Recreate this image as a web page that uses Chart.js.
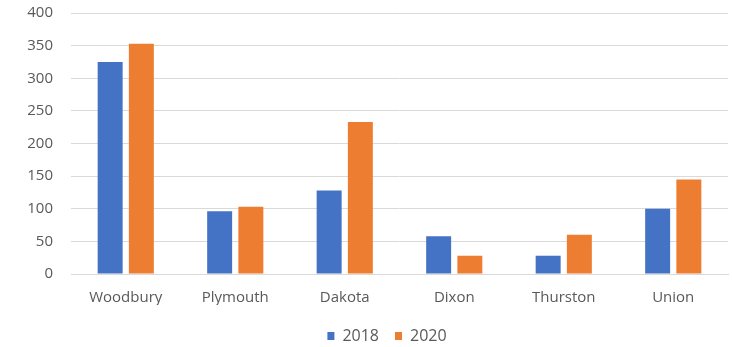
<!DOCTYPE html>
<html>
<head>
<meta charset="utf-8">
<script src="https://cdn.jsdelivr.net/npm/chart.js@4"></script>
<style>
html,body{margin:0;padding:0;background:#fff;}
#wrap{width:732px;height:347px;position:relative;}
</style>
</head>
<body>
<div id="wrap"><canvas id="c" width="732" height="347"></canvas></div>
<script>
const categories = ["Woodbury", "Plymouth", "Dakota", "Dixon", "Thurston", "Union"];
const values2018 = [325, 96, 128, 58, 28, 100];
const values2020 = [353, 103, 233, 28, 60, 145];
const seriesLabels = ["2018", "2020"];

const FONT = "'Open Sans', Lato, sans-serif";
const TXT = '#595959';

const legendShift = {
  id: 'legendShift',
  afterLayout(chart) {
    const lg = chart.legend;
    const h = lg.height;
    lg.top = 312; lg.bottom = 312 + h;
    lg.left += 23; lg.right += 23;
  }
};

new Chart(document.getElementById('c'), {
  type: 'bar',
  data: {
    labels: categories,
    datasets: [
      { label: seriesLabels[0], data: values2018, backgroundColor: '#4472C4', categoryPercentage: 0.57, barPercentage: 0.8 },
      { label: seriesLabels[1], data: values2020, backgroundColor: '#ED7D31', categoryPercentage: 0.57, barPercentage: 0.8 }
    ]
  },
  plugins: [legendShift],
  options: {
    responsive: false,
    animation: false,
    layout: { padding: { top: 13, right: 4, left: 0, bottom: 0 } },
    plugins: {
      legend: {
        position: 'bottom',
        labels: { boxWidth: 7, boxHeight: 8, color: TXT, font: { family: FONT, size: 16 }, padding: 16 }
      },
      tooltip: { enabled: false }
    },
    scales: {
      x: {
        grid: { display: false, drawTicks: false },
        border: { display: true, color: '#d9d9d9' },
        ticks: { color: TXT, font: { family: FONT, size: 15 }, padding: 15 },
        afterFit: (s) => { s.height = Math.max(0, 347 - 274 - s.chart.legend.height); }
      },
      y: {
        min: 0, max: 400,
        ticks: { stepSize: 50, color: TXT, font: { family: FONT, size: 15 }, padding: 0 },
        grid: { color: '#d9d9d9', drawTicks: true, tickLength: 18, tickColor: 'rgba(0,0,0,0)' },
        border: { display: false },
        afterFit: (s) => { s.width = 71; }
      }
    }
  }
});
</script>
</body>
</html>
